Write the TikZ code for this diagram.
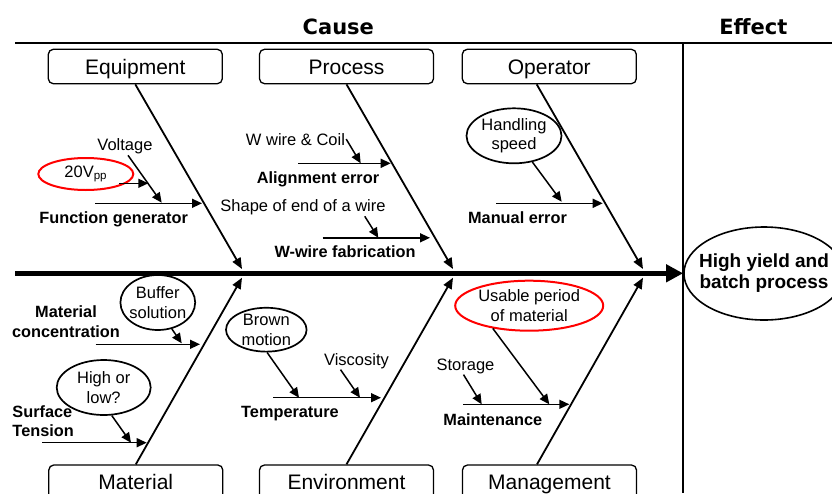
\documentclass[tikz,border=0pt]{standalone}
\usepackage{fontspec}
\setmainfont{Liberation Sans}
\newfontfamily\headfont{DejaVu Sans}
\usetikzlibrary{arrows.meta,shapes.geometric}

\begin{document}
\begin{tikzpicture}[x=1pt,y=-1pt,
    catbox/.style={draw,line width=1.3pt,rounded corners=5pt,minimum width=174pt,
      minimum height=34.4pt,inner sep=0pt,text height=15pt,text depth=0pt,
      font=\fontsize{21}{25}\selectfont},
    bubble/.style={draw,ellipse,line width=1.7pt,inner sep=0pt,align=center,
      font=\fontsize{16.5}{19.5}\selectfont},
    redbubble/.style={bubble,draw=red,line width=2pt},
    note/.style={inner sep=1pt,font=\fontsize{16.5}{19.5}\selectfont},
    cause/.style={inner sep=1pt,align=center,font=\bfseries\fontsize{16.3}{19.3}\selectfont},
    heading/.style={anchor=base,font=\headfont\bfseries\fontsize{21}{25}\selectfont},
    bone/.style={line width=1.8pt,-{Triangle[length=11pt,width=9pt]}},
    twig/.style={line width=1.5pt,-{Triangle[length=10pt,width=9pt]}}]
    \clip (0,0) rectangle (832,493);

    % headings and frame
    \node (causehd) [heading] at (338.3,34) {Cause};
    \node (effecthd) [heading] at (753.3,34) {Effect};
    \coordinate (rulel) at (15,43);
    \coordinate (ruler) at (832,43);
    \coordinate (divtop) at (683,43);
    \coordinate (divbot) at (683,493);
    \draw [line width=1.3pt] (rulel) -- (ruler);
    \draw [line width=1.3pt] (divtop) -- (divbot);

    % effect and spine
    \node (effect) [draw,ellipse,line width=1.6pt,minimum height=93pt,inner xsep=-8.3pt,inner ysep=0pt,
      align=center,font=\bfseries\fontsize{19}{21}\selectfont] at (764,273.5) {High yield and\\batch process};
    \coordinate (spinel) at (15,273.3);
    \draw [line width=4.7pt,-{Triangle[length=17pt,width=17pt]}] (spinel) -- (spinel -| effect.west);

    % categories
    \node (equip) [catbox] at (135.3,66.5) {Equipment};
    \node (proc) [catbox] at (346.5,66.5) {Process};
    \node (oper) [catbox] at (549.3,66.5) {Operator};
    \node (mater) [catbox] at (135.8,482.2) {Material};
    \node (envir) [catbox] at (346.5,482.2) {Environment};
    \node (manag) [catbox] at (549.5,482.2) {Management};

    \coordinate (equiptip) at (242,269);
    \coordinate (proctip) at (453,269);
    \coordinate (opertip) at (643,269);
    \coordinate (matertip) at (242,277.7);
    \coordinate (envirtip) at (453,277.7);
    \coordinate (managtip) at (643,277.7);
    \draw [bone] (equip.south) -- (equiptip);
    \draw [bone] (proc.south) -- (proctip);
    \draw [bone] ([xshift=-12.6pt]oper.south) -- (opertip);
    \draw [bone] (mater.north) -- (matertip);
    \draw [bone] (envir.north) -- (envirtip);
    \draw [bone] ([xshift=-12.5pt]manag.north) -- (managtip);

    % Equipment
    \coordinate (fgenl) at (95,203.3);
    \coordinate (fgentip) at (202,203.3);
    \draw [twig] (fgenl) -- (fgentip);
    \node (fgen) [cause,anchor=base] at (113.7,223.5) {Function generator};
    \node (volt) [note,anchor=base] at (125,150.7) {Voltage};
    \coordinate (volttip) at (161.7,202.7);
    \draw [twig] ([xshift=3pt]volt.south) -- (volttip);
    \node (vpp) [redbubble,minimum width=95pt,minimum height=32pt] at (85.8,174) {20V\textsubscript{pp}};
    \coordinate (vpptip) at (148.3,183.3);
    \draw [twig] (vpptip -| vpp.-20) -- (vpptip);

    % Process
    \node (wcoil) [note,anchor=base] at (295.5,145) {W wire \& Coil};
    \coordinate (wcoiltip) at (360.7,163.3);
    \draw [twig] (wcoil.east) -- (wcoiltip);
    \coordinate (alignl) at (298.3,163.3);
    \coordinate (aligntip) at (390.7,163.3);
    \draw [twig] (alignl) -- (aligntip);
    \node (alignerr) [cause,anchor=base] at (318,183) {Alignment error};
    \node (wshape) [note,anchor=base] at (303,211.7) {Shape of end of a wire};
    \coordinate (wshapetip) at (378.3,237.8);
    \draw [twig] ([xshift=-22pt]wshape.south east) -- (wshapetip);
    \coordinate (wfabl) at (322.7,237.8);
    \coordinate (wfabtip) at (430,237.8);
    \draw [twig] (wfabl) -- (wfabtip);
    \node (wfab) [cause,anchor=base] at (345,257.3) {W-wire fabrication};

    % Operator
    \node (hspeed) [bubble,minimum width=95pt,minimum height=55pt] at (514,135.8) {Handling\\speed};
    \coordinate (hspeedtip) at (561.7,201.7);
    \draw [twig] (hspeed.-55) -- (hspeedtip);
    \coordinate (manl) at (496,203.3);
    \coordinate (mantip) at (602.7,203.3);
    \draw [twig] (manl) -- (mantip);
    \node (manerr) [cause,anchor=base] at (517.5,223.3) {Manual error};

    % Material
    \coordinate (concl) at (95.7,344.3);
    \coordinate (conctip) at (200,344.3);
    \draw [twig] (concl) -- (conctip);
    \node (conc) [cause] at (66,321.8) {Material\\concentration};
    \node (buffer) [bubble,minimum width=74pt,minimum height=55pt,inner xsep=-2pt] at (157.8,302.5) {Buffer\\solution};
    \coordinate (buffertip) at (181.7,343.3);
    \draw [twig] (buffer.-62) -- (buffertip);
    \coordinate (surfl) at (42.3,442.7);
    \coordinate (surftip) at (146.7,442.7);
    \draw [twig] (surfl) -- (surftip);
    \node (surf) [cause,align=left,anchor=west] at (11.3,421.5) {Surface\\Tension};
    \node (hilo) [bubble,minimum width=94pt,minimum height=55pt] at (103.7,387.5) {High or\\low?};
    \coordinate (hilotip) at (131,442.7);
    \draw [twig] (hilo.-74) -- (hilotip);

    % Environment
    \node (brown) [bubble,minimum width=80.6pt,minimum height=42pt] at (266.3,329.7) {Brown\\motion};
    \coordinate (browntip) at (299,397.7);
    \draw [twig] (brown.-88) -- (browntip);
    \coordinate (templ) at (273.3,397.7);
    \coordinate (temptip) at (381,397.7);
    \draw [twig] (templ) -- (temptip);
    \node (temp) [cause,anchor=base] at (290,417.7) {Temperature};
    \node (visc) [note,anchor=base] at (356.5,365) {Viscosity};
    \coordinate (visctip) at (360,397.7);
    \draw [twig] ([xshift=-16pt]visc.south) -- (visctip);

    % Management
    \node (usable) [redbubble,minimum width=148pt,minimum height=50pt] at (529.2,305.7) {Usable period\\of material};
    \coordinate (usabletip) at (549.3,404.3);
    \draw [twig] (usable.-148) -- (usabletip);
    \node (storage) [note,anchor=base] at (465.5,370) {Storage};
    \coordinate (storagetip) at (481.7,404.3);
    \draw [twig] ([xshift=-2pt]storage.south) -- (storagetip);
    \coordinate (maintl) at (463.3,404.3);
    \coordinate (mainttip) at (569.3,404.3);
    \draw [twig] (maintl) -- (mainttip);
    \node (maint) [cause,anchor=base] at (492.8,425) {Maintenance};
\end{tikzpicture}
\end{document}
